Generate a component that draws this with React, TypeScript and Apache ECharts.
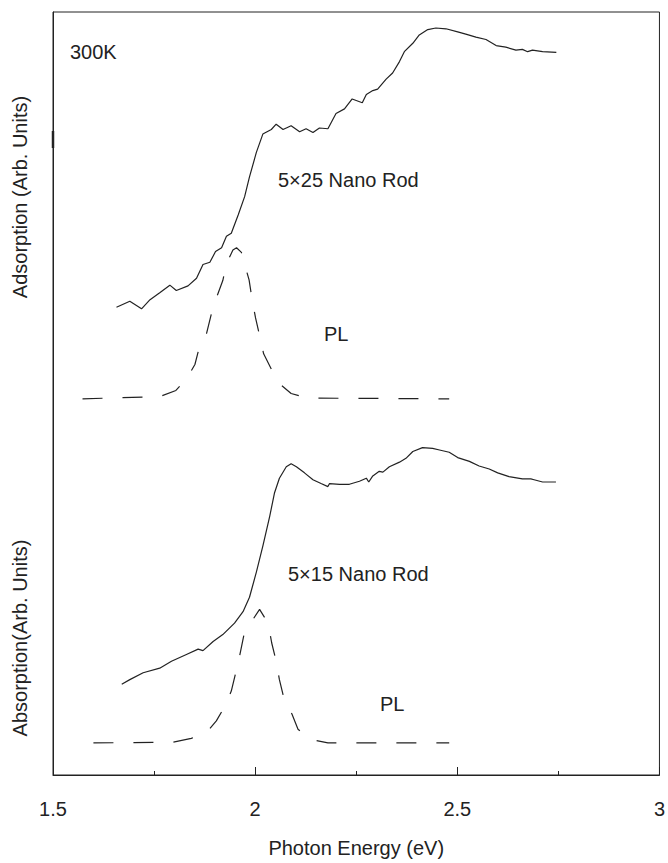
import React, { useEffect, useRef } from "react";
import * as echarts from "echarts";

// Photon energy (eV) and absorption (arb. units) — 5×25 nano rod
const energyAbs25 = [1.657, 1.69, 1.719, 1.74, 1.764, 1.789, 1.805, 1.834, 1.855, 1.871, 1.888, 1.902, 1.917, 1.929, 1.941, 1.958, 1.974, 1.986, 2.003, 2.019, 2.04, 2.052, 2.069, 2.089, 2.11, 2.126, 2.143, 2.159, 2.18, 2.2, 2.221, 2.24, 2.265, 2.275, 2.291, 2.303, 2.324, 2.34, 2.357, 2.369, 2.39, 2.406, 2.427, 2.447, 2.472, 2.501, 2.521, 2.546, 2.571, 2.596, 2.62, 2.645, 2.661, 2.674, 2.686, 2.711, 2.745];
const abs25 = [61.3, 62.1, 61.1, 62.3, 63.2, 64.2, 63.5, 64.1, 65.1, 66.9, 67.2, 68.6, 69.1, 70.6, 71.0, 73.4, 75.8, 78.4, 81.6, 84.0, 84.6, 85.3, 84.6, 85.1, 84.3, 84.7, 84.2, 84.8, 84.7, 86.7, 87.3, 88.6, 88.1, 89.2, 89.7, 89.9, 91.2, 92.0, 93.5, 94.8, 95.9, 97.0, 97.7, 97.9, 97.8, 97.4, 97.1, 96.7, 96.4, 95.6, 95.4, 95.0, 95.1, 94.8, 95.0, 94.8, 94.7];

// PL of 5×25 nano rod
const energyPL25 = [1.573, 1.764, 1.804, 1.83, 1.851, 1.863, 1.88, 1.892, 1.904, 1.92, 1.929, 1.945, 1.954, 1.966, 1.972, 1.985, 1.992, 2.001, 2.011, 2.021, 2.04, 2.06, 2.089, 2.13, 2.48];
const pl25 = [49.3, 49.6, 50.4, 51.9, 53.8, 56.3, 57.9, 60.5, 62.5, 64.8, 67.0, 68.8, 69.1, 68.5, 67.3, 64.9, 62.5, 59.9, 57.6, 55.2, 53.2, 51.3, 50.0, 49.4, 49.3];

// Absorption — 5×15 nano rod
const energyAbs15 = [1.67, 1.69, 1.723, 1.764, 1.793, 1.83, 1.859, 1.871, 1.896, 1.92, 1.949, 1.97, 1.986, 2.003, 2.019, 2.036, 2.048, 2.06, 2.077, 2.089, 2.102, 2.122, 2.143, 2.163, 2.18, 2.184, 2.209, 2.233, 2.258, 2.275, 2.281, 2.291, 2.307, 2.316, 2.332, 2.357, 2.373, 2.39, 2.414, 2.439, 2.456, 2.48, 2.501, 2.53, 2.554, 2.579, 2.6, 2.628, 2.661, 2.682, 2.69, 2.711, 2.744];
const abs15 = [11.9, 12.5, 13.4, 14.0, 14.9, 15.8, 16.5, 16.3, 17.5, 18.4, 19.9, 21.4, 23.3, 26.6, 30.0, 33.9, 37.0, 38.9, 40.4, 40.8, 40.4, 39.6, 38.7, 38.2, 37.8, 38.2, 38.1, 38.1, 38.5, 38.9, 38.4, 39.2, 39.8, 39.7, 40.4, 41.0, 41.5, 42.4, 42.9, 42.8, 42.6, 42.3, 41.6, 41.1, 40.5, 40.1, 39.6, 39.1, 38.8, 38.8, 38.7, 38.4, 38.4];

// PL of 5×15 nano rod
const energyPL15 = [1.6, 1.797, 1.842, 1.88, 1.904, 1.925, 1.941, 1.952, 1.962, 1.972, 1.991, 2.011, 2.032, 2.041, 2.052, 2.06, 2.071, 2.091, 2.106, 2.135, 2.18, 2.48];
const pl15 = [4.2, 4.3, 4.8, 5.6, 7.1, 9.0, 11.0, 13.4, 15.7, 18.3, 20.1, 21.7, 19.9, 17.3, 14.9, 12.5, 10.1, 8.0, 6.0, 4.7, 4.2, 4.2];

const xMin = 1.5;
const xMax = 3;
const xTickStep = 0.5;

const zip = (xs: number[], ys: number[]) => xs.map((x, i) => [x, ys[i]]);

const FONT = '"Liberation Sans", Arial, Helvetica, sans-serif';
const INK = "#222";

export default function App() {
  const ref = useRef<HTMLDivElement>(null);

  useEffect(() => {
    document.body.style.margin = "0";
    if (!ref.current) return;
    const chart = echarts.init(ref.current, undefined, { renderer: "svg" });

    const textEl = (text: string, x: number, y: number, align: string = "left", rotation = 0) => ({
      type: "text",
      x,
      y,
      rotation,
      style: {
        text,
        fill: INK,
        font: `20px ${FONT}`,
        textAlign: align,
        textVerticalAlign: "middle",
      },
    });

    chart.setOption({
      animation: false,
      backgroundColor: "#fff",
      grid: {
        left: 53,
        right: 6,
        top: 12,
        bottom: 82,
        show: true,
        borderColor: INK,
        borderWidth: 1,
      },
      xAxis: {
        type: "value",
        min: xMin,
        max: xMax,
        interval: xTickStep,
        axisLine: { show: true, lineStyle: { color: INK, width: 1 } },
        axisTick: { show: true, inside: true, length: 8, lineStyle: { color: INK } },
        minorTick: { show: true, splitNumber: 2, length: 4, lineStyle: { color: INK } },
        axisLabel: { fontSize: 20, fontFamily: FONT, color: INK, margin: 24 },
        splitLine: { show: false },
        name: "Photon Energy (eV)",
        nameLocation: "middle",
        nameGap: 63,
        nameTextStyle: { fontSize: 20, fontFamily: FONT, color: INK },
      },
      yAxis: {
        type: "value",
        min: 0,
        max: 100,
        axisLine: { show: true, lineStyle: { color: INK, width: 1 } },
        axisTick: { show: false },
        axisLabel: { show: false },
        splitLine: { show: false },
      },
      series: [
        {
          type: "line",
          data: zip(energyAbs25, abs25),
          showSymbol: false,
          lineStyle: { color: INK, width: 1.2 },
        },
        {
          type: "line",
          data: zip(energyPL25, pl25),
          showSymbol: false,
          lineStyle: { color: INK, width: 1.2, type: [20, 20] },
        },
        {
          type: "line",
          data: zip(energyAbs15, abs15),
          showSymbol: false,
          lineStyle: { color: INK, width: 1.2 },
        },
        {
          type: "line",
          data: zip(energyPL15, pl15),
          showSymbol: false,
          lineStyle: { color: INK, width: 1.2, type: [20, 20] },
        },
      ],
      graphic: [
        {
          type: "line",
          shape: { x1: 53, y1: 131, x2: 53, y2: 148 },
          style: { stroke: INK, lineWidth: 2.5 },
        },
        textEl("300K", 70, 52),
        textEl("5×25 Nano Rod", 278, 180),
        textEl("PL", 324, 334),
        textEl("5×15 Nano Rod", 288, 574),
        textEl("PL", 380, 704),
        textEl("Adsorption (Arb. Units)", 20, 197, "center", Math.PI / 2),
        textEl("Absorption(Arb. Units)", 20, 638, "center", Math.PI / 2),
      ],
    });

    return () => chart.dispose();
  }, []);

  return (
    <div
      ref={ref}
      style={{ position: "absolute", left: 0, top: 0, width: 668, height: 863 }}
    />
  );
}
